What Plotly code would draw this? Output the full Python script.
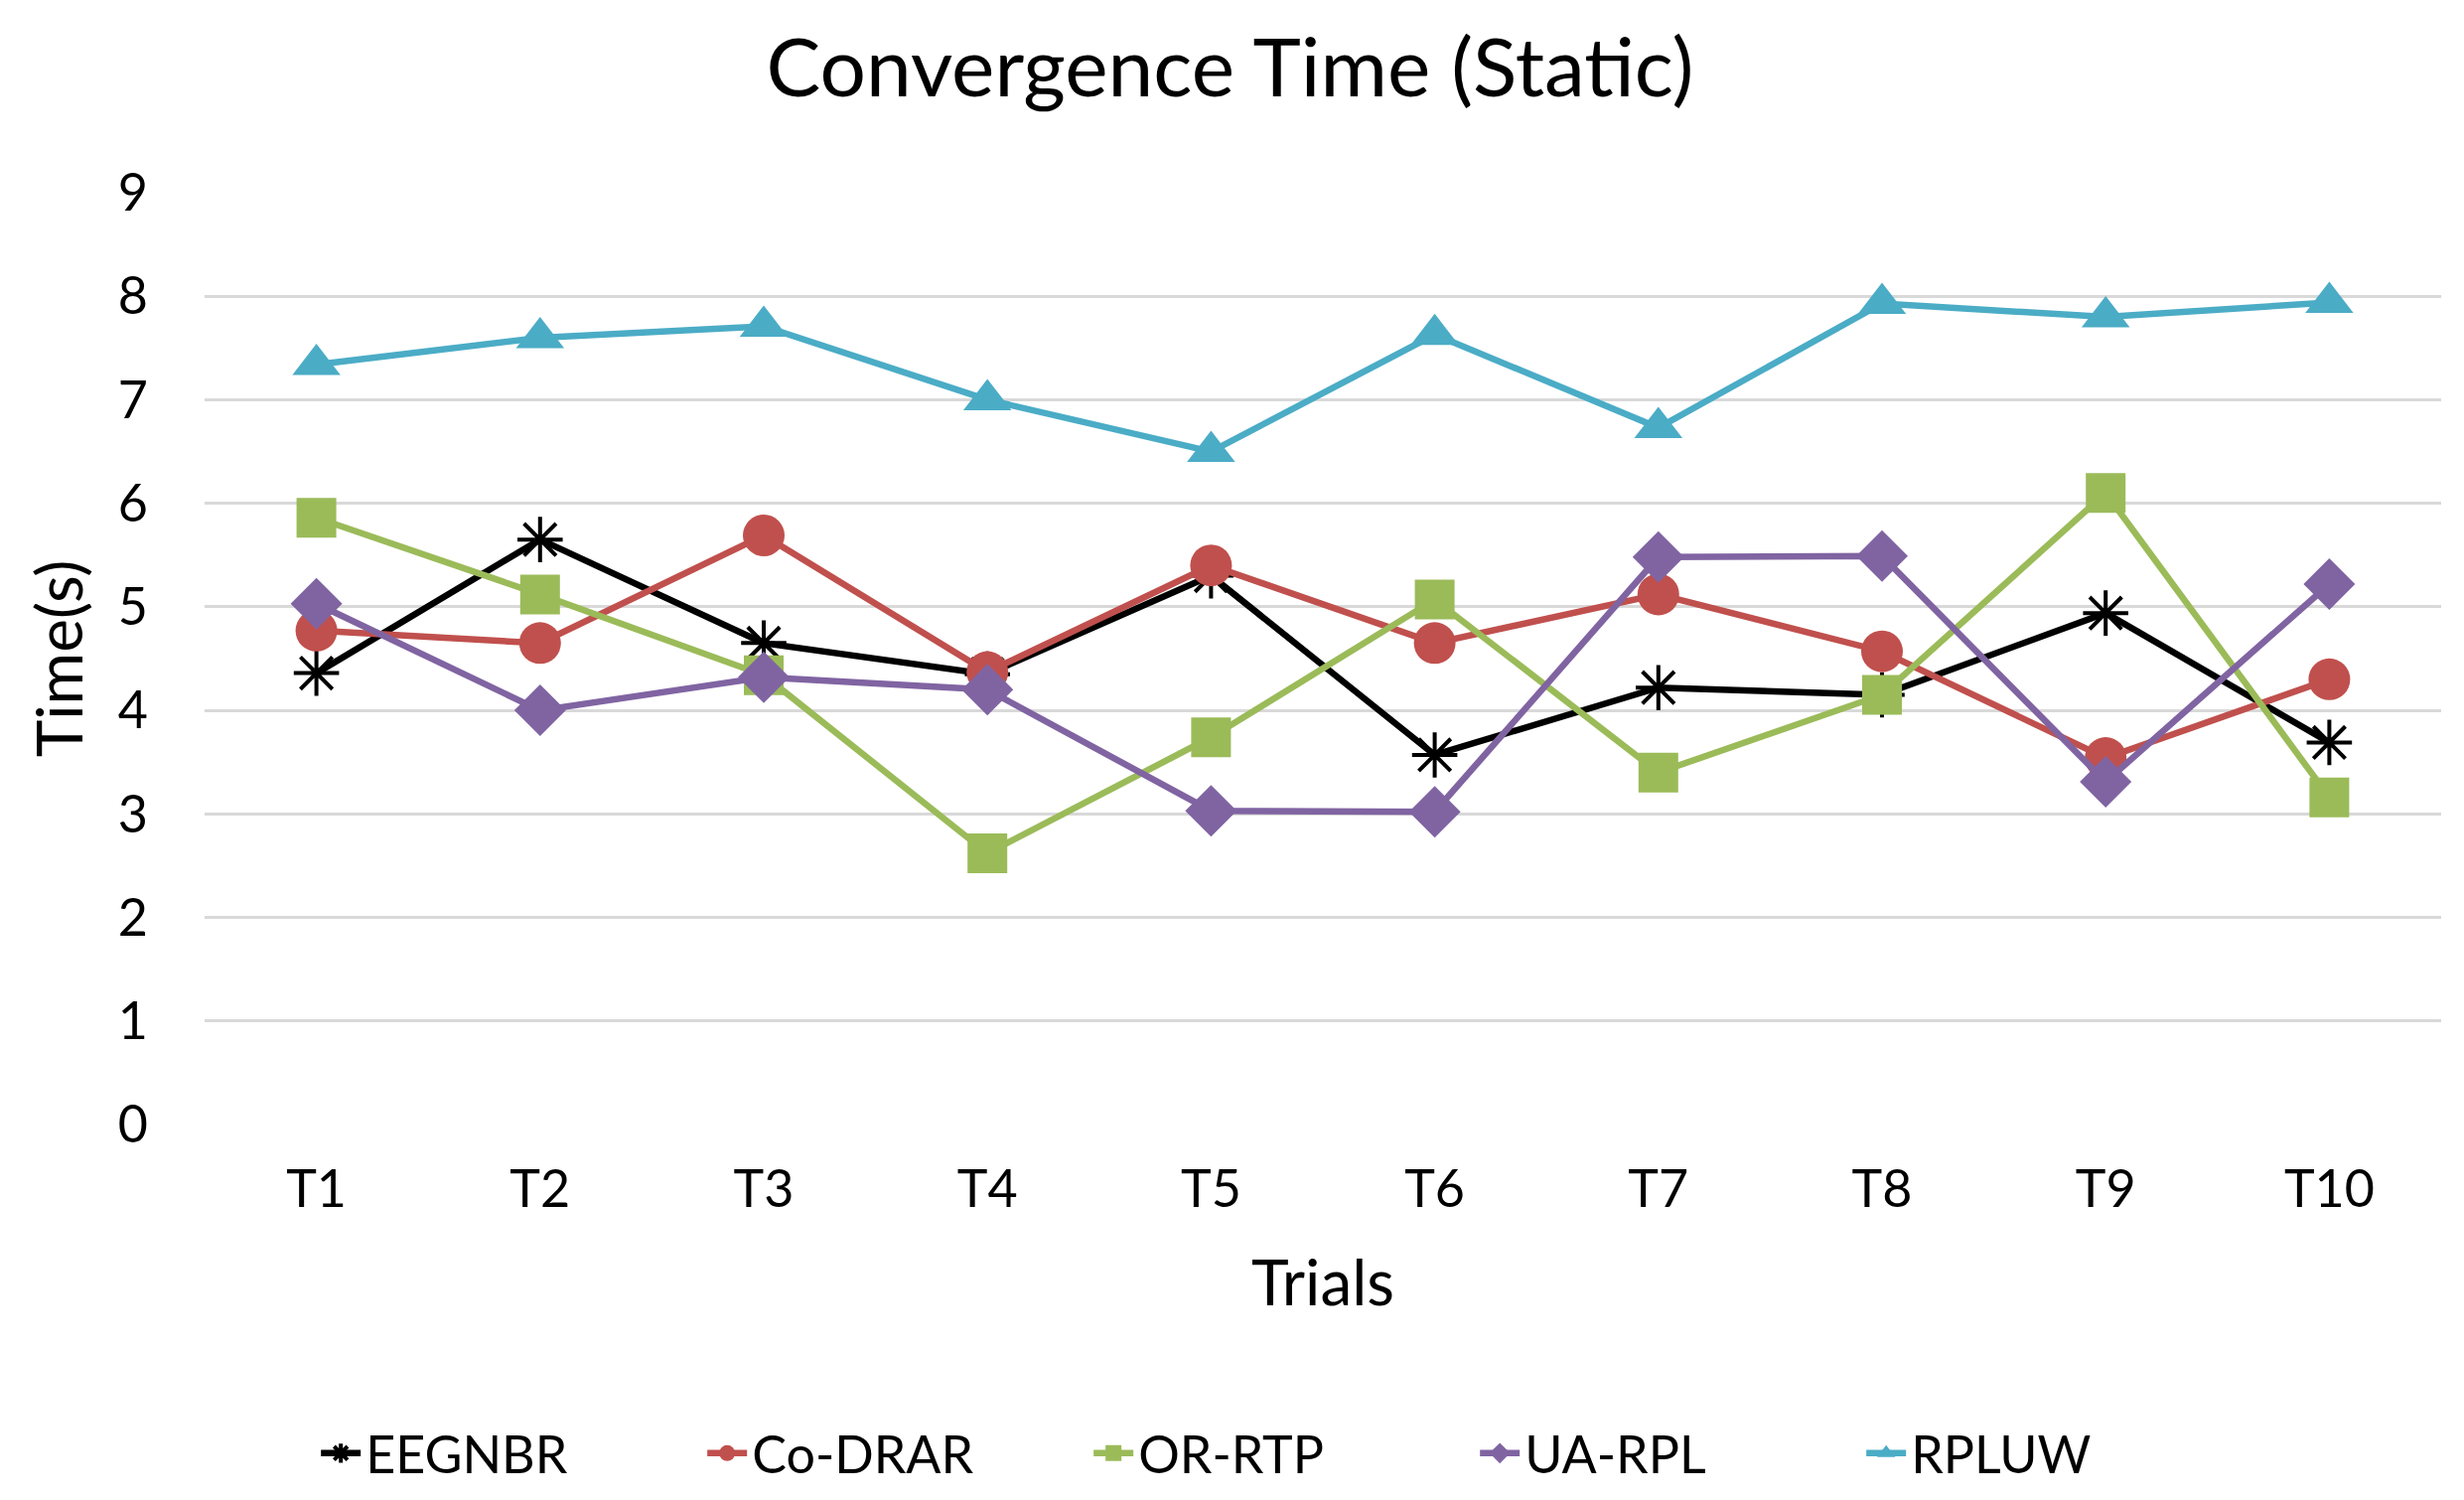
import plotly.graph_objects as go

trials = ["T1", "T2", "T3", "T4", "T5", "T6", "T7", "T8", "T9", "T10"]
eegnbr = [4.36, 5.65, 4.65, 4.35, 5.30, 3.57, 4.22, 4.15, 4.94, 3.69]
co_drar = [4.77, 4.65, 5.69, 4.37, 5.40, 4.65, 5.12, 4.57, 3.54, 4.30]
or_rtp = [5.86, 5.12, 4.34, 2.62, 3.74, 5.07, 3.40, 4.15, 6.10, 3.16]
ua_rpl = [5.03, 4.00, 4.32, 4.20, 3.03, 3.02, 5.48, 5.49, 3.31, 5.22]
rpluw = [7.34, 7.60, 7.71, 7.00, 6.50, 7.63, 6.73, 7.93, 7.80, 7.94]

names = ["EEGNBR", "Co-DRAR", "OR-RTP", "UA-RPL", "RPLUW"]
series = [eegnbr, co_drar, or_rtp, ua_rpl, rpluw]
colors = ["#000000", "#C0504D", "#9BBB59", "#8064A2", "#4BACC6"]
symbols = ["asterisk-open", "circle", "square", "diamond", "triangle-up"]
sizes = [38, 42, 40, 40, 42]

FONT = "Lato"

fig = go.Figure()
for n, s, c, sym, sz in zip(names, series, colors, symbols, sizes):
    fig.add_trace(go.Scatter(
        x=trials, y=s, name=n, mode="lines+markers",
        line=dict(color=c, width=6.5),
        marker=dict(symbol=sym, size=sz, color=c,
                    line=dict(color=c, width=4 if sym == "asterisk-open" else 0)),
    ))

fig.update_layout(
    width=2481, height=1510,
    paper_bgcolor="white", plot_bgcolor="white",
    margin=dict(l=198, r=31, t=186, b=386),
    title=dict(text="Convergence Time (Static)", xref="container", x=0.496, xanchor="center",
               yref="container", y=1 - 60 / 1510, yanchor="middle",
               font=dict(family=FONT, size=82, color="#000000")),
    font=dict(family=FONT, color="#000000"),
    showlegend=True,
    legend=dict(orientation="h", xref="container", x=0.517, xanchor="center",
                yref="container", y=1 - 1455 / 1510, yanchor="middle",
                font=dict(family=FONT, size=52, color="#000000"),
                entrywidth=334, entrywidthmode="pixels",
                itemwidth=40, tracegroupgap=0),
)
fig.update_xaxes(
    type="category", range=[-0.5, 9.5],
    showgrid=False, showline=False, zeroline=False, ticks="",
    tickfont=dict(family=FONT, size=52, color="#000000"),
    ticklabelstandoff=30,
    title=dict(text="Trials", font=dict(family=FONT, size=64, color="#000000"), standoff=44),
)
fig.update_yaxes(
    range=[0, 9], dtick=1, tick0=0,
    showgrid=True, gridcolor="#D9D9D9", gridwidth=3,
    zeroline=False, showline=False, ticks="",
    tickfont=dict(family=FONT, size=52, color="#000000"),
    ticklabelstandoff=56,
    title=dict(text="Time(s)", font=dict(family=FONT, size=64, color="#000000"), standoff=14),
)

fig.write_html("out.html")
